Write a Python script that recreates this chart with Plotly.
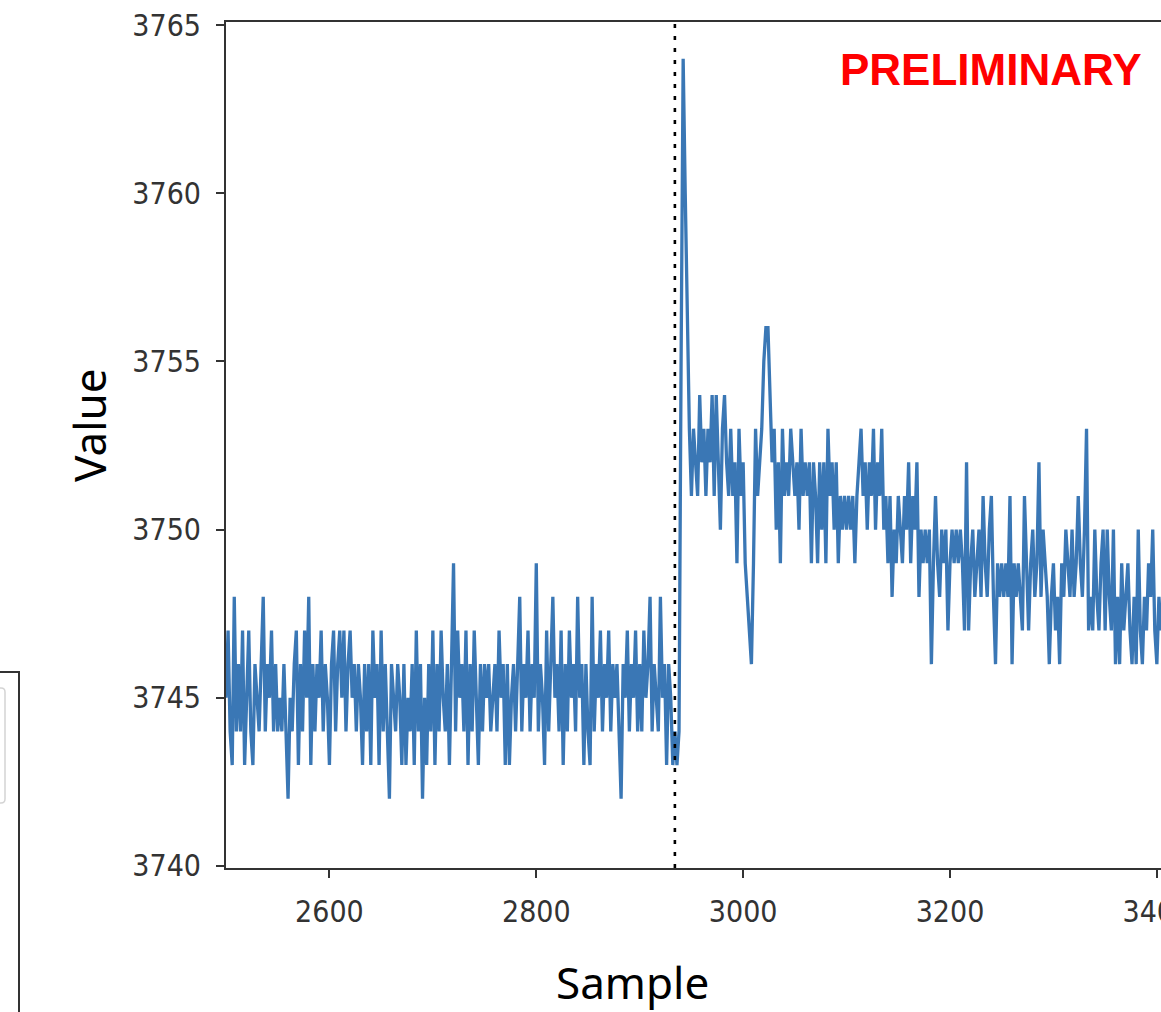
import plotly.graph_objects as go

# ---------------- data ----------------
BASE = 3740          # values below are offsets from this level
STEP = 2             # sample spacing of the read-off points

pre_a_start = 2500
pre_a = [5, 7, 4, 3, 8, 4, 6, 4, 7, 3,
         5, 7, 4, 3, 6, 5, 4, 6, 8, 4,
         6, 5, 7, 4, 6, 4, 5, 4, 6, 4,
         2, 5, 4, 6, 7, 3, 6, 4, 7, 5,
         8, 3, 6, 4, 6, 5, 7, 4, 6, 5]

pre_b_start = 2600
pre_b = [3, 6, 7, 4, 6, 7, 5, 7, 4, 6,
         7, 5, 6, 4, 6, 5, 3, 6, 4, 6,
         3, 7, 5, 6, 3, 7, 4, 6, 4, 2,
         6, 5, 4, 6, 5, 3, 6, 3, 5, 4,
         6, 3, 7, 4, 6, 2, 5, 3, 6, 4]

pre_c_start = 2700
pre_c = [7, 3, 6, 4, 7, 5, 4, 6, 3, 6,
         9, 4, 7, 5, 6, 4, 7, 3, 6, 4,
         7, 5, 3, 6, 4, 6, 5, 6, 4, 5,
         6, 4, 7, 5, 6, 3, 6, 3, 5, 6,
         4, 6, 8, 4, 6, 5, 7, 4, 6, 5]

pre_d_start = 2800
pre_d = [9, 4, 6, 5, 3, 7, 4, 6, 8, 5,
         6, 4, 7, 3, 6, 4, 7, 5, 6, 4,
         8, 5, 6, 3, 6, 4, 3, 8, 4, 6,
         5, 7, 4, 6, 5, 7, 4, 6, 5, 6,
         4, 2, 6, 5, 7, 4, 6, 5, 7, 4,
         6, 4, 7, 5, 6, 8, 4, 6, 5, 4,
         8, 5, 6, 3, 6, 5, 3]

jump_start = 2934
jump = [4, 3, 4, 15, 24, 20, 16, 13, 11]

post_a_start = 2952
post_a = [13, 12, 11, 14, 12, 13, 11, 13, 12, 14,
          11, 14, 12, 10, 13, 14, 12, 11, 13, 11,
          12, 9, 13, 11, 12, 9, 8, 7, 6, 9,
          13, 11, 12, 13, 15, 16, 16, 14, 12, 13,
          10, 12, 9, 13, 11, 12, 11, 13, 12, 11,
          12, 10, 13, 11, 12, 11, 12, 9, 12, 11,
          9, 12]

post_b_start = 3076
post_b = [10, 12, 9, 13, 11, 12, 10, 12, 9, 11,
          10, 11, 10, 11, 10, 11, 9, 11, 12, 13,
          11, 12, 10, 12, 11, 13, 10, 12, 11, 13,
          10, 11, 9, 11, 8, 10, 9, 11, 10, 9,
          11, 10, 12, 9, 11, 10, 12, 8, 10, 9,
          10, 9, 10, 6, 9, 11, 9, 8, 10, 9]

post_c_start = 3196
post_c = [10, 7, 9, 10, 9, 10, 9, 10, 9, 7,
          12, 7, 9, 10, 8, 9, 10, 8, 11, 9,
          8, 10, 11, 8, 6, 9, 8, 9, 8, 9,
          8, 11, 6, 9, 8, 9, 8, 7, 11, 9,
          7, 9, 10, 8, 9, 12, 8, 10, 9, 8,
          6, 8, 9, 7, 8, 6, 9, 8, 10, 9]

post_d_start = 3316
post_d = [8, 10, 8, 9, 11, 9, 8, 10, 13, 7,
          8, 7, 10, 8, 7, 9, 10, 7, 10, 8,
          7, 10, 6, 8, 6, 9, 7, 8, 9, 7,
          6, 8, 6, 10, 7, 6, 8, 7, 9, 8,
          10, 7, 6, 8, 7]

event_sample = 2934
x_ticks = [2600, 2800, 3000, 3200, 3400]
y_ticks = [3740, 3745, 3750, 3755, 3760, 3765]
x_range = [2500, 3404]
y_range = [3739.94, 3765.09]

segments = [(pre_a_start, pre_a), (pre_b_start, pre_b), (pre_c_start, pre_c),
            (pre_d_start, pre_d), (jump_start, jump), (post_a_start, post_a),
            (post_b_start, post_b), (post_c_start, post_c), (post_d_start, post_d)]

xs, ys = [], []
for start, vals in segments:
    for i, v in enumerate(vals):
        xs.append(start + STEP * i)
        ys.append(BASE + v)

# ---------------- figure ----------------
W, H = 1161, 1012
ML, MR, MT, MB = 226, 0, 22, 144
PW, PH = W - ML - MR, H - MT - MB


def px(xp):
    return (xp - ML) / PW


def py(yp):
    return (H - MB - yp) / PH


fig = go.Figure()
fig.add_trace(go.Scatter(x=xs, y=ys, mode="lines",
                         line=dict(color="#3a77b5", width=3.3),
                         hoverinfo="skip"))

fig.add_shape(type="line", xref="x", yref="paper", x0=event_sample, x1=event_sample,
              y0=0, y1=1, line=dict(color="black", width=2.6, dash="4px,8px"))

# fragment of a neighbouring panel at the left edge
fig.add_shape(type="path", xref="paper", yref="paper",
              path=f"M {px(-5)},{py(672)} L {px(19)},{py(672)} L {px(19)},{py(1020)}",
              line=dict(color="#333333", width=2))
fig.add_shape(type="path", xref="paper", yref="paper",
              path=(f"M {px(-5)},{py(688)} L {px(1)},{py(688)} Q {px(5)},{py(688)} {px(5)},{py(692)} "
                    f"L {px(5)},{py(799)} Q {px(5)},{py(803)} {px(1)},{py(803)} L {px(-5)},{py(803)}"),
              line=dict(color="#d4d4d4", width=1.5))

tickfont = dict(family="DejaVu Sans Condensed, DejaVu Sans", size=30, color="#333333")

fig.update_xaxes(range=x_range, tickvals=x_ticks, ticktext=[str(t) for t in x_ticks],
                 showgrid=False, zeroline=False, showline=True, linecolor="#333333",
                 linewidth=2, mirror=True, ticks="outside", ticklen=8, tickwidth=2,
                 tickcolor="#333333", tickfont=tickfont, automargin=False,
                 ticklabelstandoff=8, ticklabeloverflow="allow")
fig.update_yaxes(range=y_range, tickvals=y_ticks, ticktext=[str(t) for t in y_ticks],
                 showgrid=False, zeroline=False, showline=True, linecolor="#333333",
                 linewidth=2, mirror=False, ticks="outside", ticklen=8, tickwidth=2,
                 tickcolor="#333333", tickfont=tickfont, automargin=False,
                 ticklabelstandoff=9)

fig.add_annotation(text="Value", xref="paper", yref="paper", x=px(89), y=py(425),
                   textangle=-90, showarrow=False, xanchor="center", yanchor="middle",
                   font=dict(family="Noto Sans", size=44, color="black"))
fig.add_annotation(text="Sample", xref="paper", yref="paper", x=px(632), y=py(982),
                   showarrow=False, xanchor="center", yanchor="middle",
                   font=dict(family="Noto Sans", size=44, color="black"))
fig.add_annotation(text="<b>PRELIMINARY</b>", xref="paper", yref="paper", x=px(991), y=py(70),
                   showarrow=False, xanchor="center", yanchor="middle",
                   font=dict(family="Liberation Sans, Arial", size=44, color="#ff0000"))

fig.update_layout(width=W, height=H, margin=dict(l=ML, r=MR, t=MT, b=MB),
                  plot_bgcolor="white", paper_bgcolor="white", showlegend=False,
                  hovermode=False)

fig.write_html("out.html", config={"displayModeBar": False},
               post_script="document.body.style.margin='0';document.body.style.overflow='hidden';")
